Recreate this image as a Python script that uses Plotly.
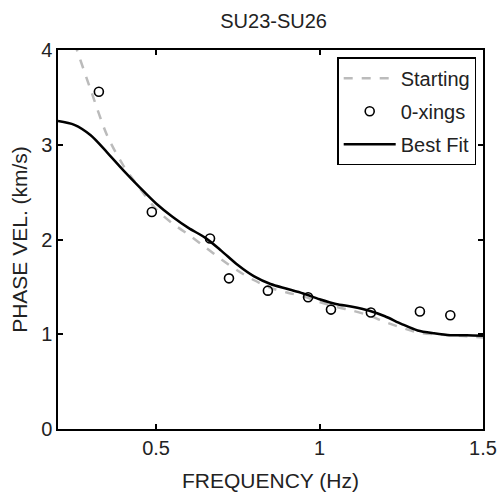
import plotly.graph_objects as go

# 0-crossing picks
xing_f = [0.325, 0.487, 0.665, 0.723, 0.842, 0.965, 1.035, 1.157, 1.307, 1.40]
xing_v = [3.56, 2.29, 2.01, 1.59, 1.46, 1.39, 1.26, 1.23, 1.24, 1.20]

# Starting model dispersion curve
start_f = [0.25, 0.3, 0.35, 0.4, 0.45, 0.5, 0.55, 0.6, 0.65, 0.7, 0.75, 0.8, 0.85, 0.9,
           0.95, 1.0, 1.05, 1.1, 1.15, 1.2, 1.25, 1.3, 1.35, 1.4, 1.45, 1.5]
start_v = [4.08, 3.58, 3.10, 2.78, 2.54, 2.32, 2.17, 2.05, 1.92, 1.79, 1.67, 1.57, 1.49, 1.44,
           1.40, 1.34, 1.29, 1.25, 1.20, 1.13, 1.07, 1.02, 1.00, 0.99, 0.98, 0.965]

# Best fit dispersion curve
fit_f = [0.2, 0.25, 0.3, 0.35, 0.4, 0.45, 0.5, 0.55, 0.6, 0.65, 0.7, 0.75, 0.8, 0.85, 0.9,
         0.95, 1.0, 1.05, 1.1, 1.15, 1.2, 1.25, 1.3, 1.35, 1.4, 1.45, 1.5]
fit_v = [3.25, 3.21, 3.10, 2.92, 2.73, 2.55, 2.38, 2.24, 2.12, 2.02, 1.88, 1.73, 1.61, 1.53, 1.48,
         1.43, 1.37, 1.32, 1.29, 1.25, 1.19, 1.11, 1.04, 1.01, 0.99, 0.99, 0.985]

FONT = "Liberation Sans, Arial, Helvetica, sans-serif"
TXT = "#222222"

fig = go.Figure()
fig.add_trace(go.Scatter(x=start_f, y=start_v, mode="lines", name="Starting", legendgroup="a",
                         line=dict(color="#bbbbbb", width=2.5, dash="dash",
                                   shape="spline", smoothing=0.8)))
fig.add_trace(go.Scatter(x=xing_f, y=xing_v, mode="markers", name="0-xings", legendgroup="b",
                         marker=dict(symbol="circle-open", size=9, color="black",
                                     line=dict(width=1.6, color="black"))))
fig.add_trace(go.Scatter(x=fit_f, y=fit_v, mode="lines", name="Best Fit", legendgroup="c",
                         line=dict(color="black", width=2.5, shape="spline", smoothing=0.8)))

axis_common = dict(showline=True, linecolor="black", linewidth=1.5, mirror="ticks",
                   ticks="inside", ticklen=5, tickcolor="black", tickwidth=1.5,
                   showgrid=False, zeroline=False, automargin=False,
                   tickfont=dict(family=FONT, size=20, color=TXT))

fig.update_layout(
    width=502, height=497,
    margin=dict(l=58, r=19, t=50, b=68),
    paper_bgcolor="white", plot_bgcolor="white",
    title=dict(text="SU23-SU26", x=0.545, xanchor="center", y=0.958, yanchor="middle",
               font=dict(family=FONT, size=20, color=TXT)),
    xaxis=dict(range=[0.2, 1.5], tickvals=[0.5, 1, 1.5], ticktext=["0.5", "1", "1.5"],
               title=dict(text="FREQUENCY (Hz)", font=dict(family=FONT, size=21, color=TXT),
                          standoff=16),
               **axis_common),
    yaxis=dict(range=[0, 4], tickvals=[0, 1, 2, 3, 4],
               title=dict(text="PHASE VEL. (km/s)", font=dict(family=FONT, size=21, color=TXT),
                          standoff=8),
               **axis_common),
    legend=dict(x=0.984, xanchor="right", y=0.981, yanchor="top",
                bgcolor="white", bordercolor="black", borderwidth=1.5,
                font=dict(family=FONT, size=20, color=TXT),
                itemwidth=52, tracegroupgap=4),
    showlegend=True,
)

fig.write_html("out.html")
